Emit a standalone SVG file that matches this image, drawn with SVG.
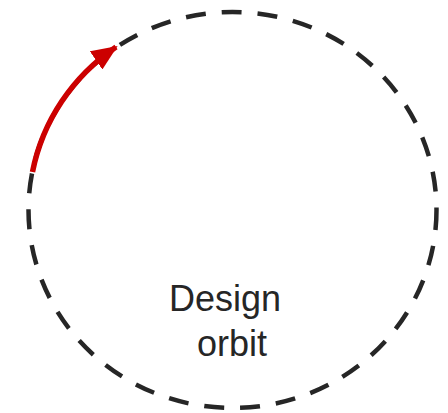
<svg xmlns="http://www.w3.org/2000/svg" width="448" height="413" viewBox="0 0 448 413">
<style>
.orbit{fill:none;stroke:#262626;stroke-width:4.5;stroke-dasharray:20 16}
.arc{fill:none;stroke:#cc0000;stroke-width:5.5}
.lbl{font-family:"Liberation Sans",Arial,sans-serif;font-size:36px;fill:#262626;text-anchor:middle}
</style>
<defs>
<marker id="ah" markerWidth="26" markerHeight="22" refX="24" refY="11" orient="auto" markerUnits="userSpaceOnUse" viewBox="0 0 26 22">
<path d="M0,0 L26,11 L0,22 Z" fill="#cc0000"/>
</marker>
</defs>
<g id="orbit-node">
<ellipse class="orbit" cx="232.5" cy="210" rx="204" ry="198"/>
<text class="lbl" x="225" y="311">Design</text>
<text class="lbl" x="232" y="356">orbit</text>
</g>
<g id="connectors">
<path class="arc" d="M32.5,172 A204,198 0 0 1 116,47" marker-end="url(#ah)"/>
</g>
</svg>
